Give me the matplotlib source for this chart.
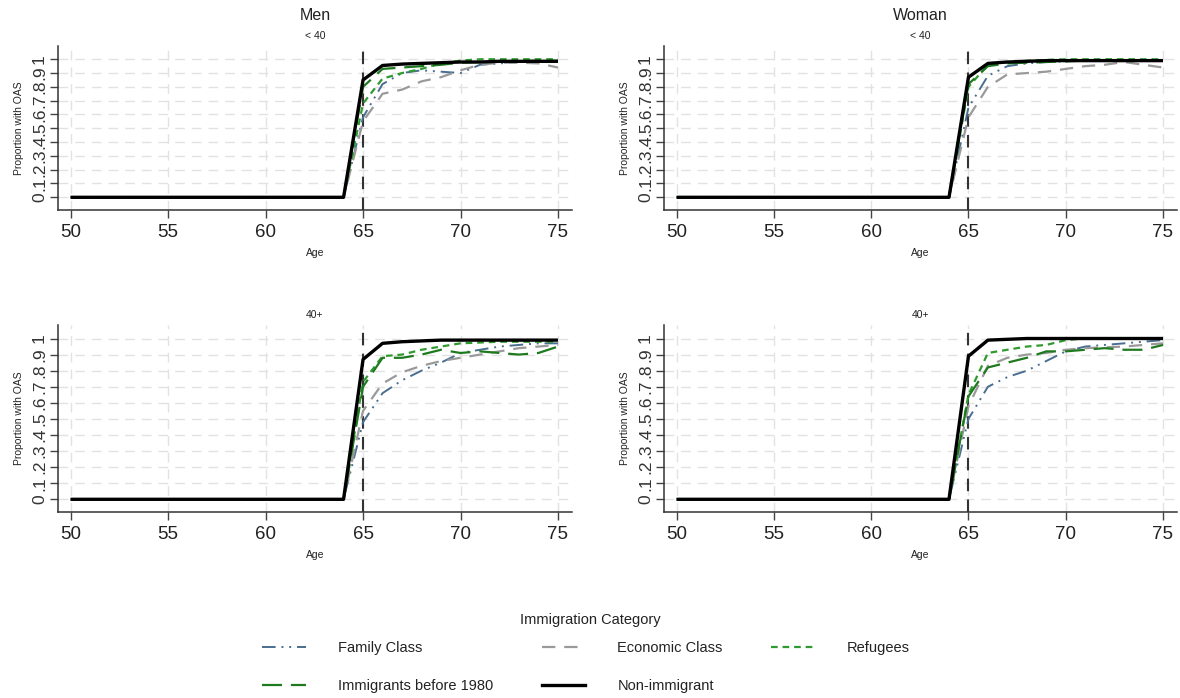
import numpy as np
import matplotlib
matplotlib.use("Agg")
import matplotlib.pyplot as plt
from matplotlib.lines import Line2D

plt.rcParams['font.family'] = ['Liberation Sans', 'DejaVu Sans']

ages = np.arange(50, 76)
zeros = [0.0] * 15  # ages 50-64

# proportion with OAS from age 65 to 75
men_young = {
    "Family Class":           [0.58, 0.82, 0.90, 0.92, 0.91, 0.90, 0.96, 0.97, 0.98, 0.98, 0.985],
    "Economic Class":         [0.55, 0.75, 0.78, 0.84, 0.87, 0.92, 0.96, 0.975, 0.975, 0.97, 0.94],
    "Refugees":               [0.68, 0.86, 0.90, 0.93, 0.97, 0.99, 1.00, 1.00, 1.00, 1.00, 1.00],
    "Immigrants before 1980": [0.80, 0.93, 0.94, 0.95, 0.96, 0.975, 0.98, 0.985, 0.985, 0.99, 0.99],
    "Non-immigrant":          [0.85, 0.955, 0.965, 0.97, 0.975, 0.98, 0.98, 0.985, 0.985, 0.985, 0.985],
}
women_young = {
    "Family Class":           [0.65, 0.88, 0.95, 0.97, 0.98, 0.985, 0.99, 0.99, 0.99, 0.99, 0.99],
    "Economic Class":         [0.58, 0.80, 0.89, 0.90, 0.91, 0.93, 0.95, 0.96, 0.98, 0.96, 0.94],
    "Refugees":               [0.80, 0.96, 0.98, 0.99, 0.995, 1.00, 1.00, 1.00, 1.00, 1.00, 1.00],
    "Immigrants before 1980": [0.82, 0.95, 0.97, 0.975, 0.98, 0.985, 0.99, 0.99, 0.99, 0.99, 0.99],
    "Non-immigrant":          [0.87, 0.97, 0.98, 0.985, 0.99, 0.99, 0.99, 0.99, 0.99, 0.99, 0.99],
}
men_old = {
    "Family Class":           [0.48, 0.66, 0.74, 0.80, 0.85, 0.91, 0.93, 0.95, 0.96, 0.97, 0.97],
    "Economic Class":         [0.55, 0.72, 0.79, 0.83, 0.86, 0.88, 0.90, 0.92, 0.94, 0.95, 0.96],
    "Refugees":               [0.73, 0.89, 0.90, 0.93, 0.95, 0.97, 0.975, 0.98, 0.98, 0.98, 0.98],
    "Immigrants before 1980": [0.70, 0.88, 0.88, 0.90, 0.93, 0.91, 0.92, 0.91, 0.90, 0.91, 0.95],
    "Non-immigrant":          [0.87, 0.97, 0.98, 0.985, 0.99, 0.99, 0.99, 0.99, 0.99, 0.99, 0.99],
}
women_old = {
    "Family Class":           [0.50, 0.70, 0.76, 0.80, 0.86, 0.92, 0.95, 0.96, 0.97, 0.98, 0.99],
    "Economic Class":         [0.58, 0.83, 0.88, 0.90, 0.91, 0.93, 0.94, 0.945, 0.95, 0.96, 0.97],
    "Refugees":               [0.65, 0.91, 0.93, 0.95, 0.96, 0.99, 1.00, 1.00, 1.00, 1.00, 1.00],
    "Immigrants before 1980": [0.64, 0.82, 0.85, 0.88, 0.92, 0.92, 0.93, 0.94, 0.93, 0.93, 0.96],
    "Non-immigrant":          [0.89, 0.99, 0.995, 1.00, 1.00, 1.00, 1.00, 1.00, 1.00, 1.00, 1.00],
}

yticks = np.arange(0, 1.01, 0.1)
ytick_labels = ["0", ".1", ".2", ".3", ".4", ".5", ".6", ".7", ".8", ".9", "1"]
xticks = [50, 55, 60, 65, 70, 75]

styles = {
    "Family Class":           dict(color="#4a6e90", lw=1.4, ls=(0, (7, 3, 1, 3, 1, 3))),
    "Economic Class":         dict(color="#9a9a9a", lw=1.6, ls=(0, (6, 4))),
    "Refugees":               dict(color="#2f9a2f", lw=1.6, ls=(0, (3, 2.2))),
    "Immigrants before 1980": dict(color="#1f7a1f", lw=1.6, ls=(0, (9, 4))),
    "Non-immigrant":          dict(color="black", lw=2.4, ls="-"),
}

W, H = 1180, 698
fig = plt.figure(figsize=(W / 100, H / 100), dpi=100)


def box(left, top, right, bottom):
    return [left / W, 1 - bottom / H, (right - left) / W, (bottom - top) / H]


panels = [
    (men_young, box(58, 46, 572, 210), "Men", "< 40", (-0.092, 1.096)),
    (women_young, box(664, 46, 1177, 210), "Woman", "< 40", (-0.092, 1.096)),
    (men_old, box(58, 325, 572, 512), None, "40+", (-0.079, 1.084)),
    (women_old, box(664, 325, 1177, 512), None, "40+", (-0.079, 1.084)),
]

for data, rect, title, sub, ylim in panels:
    ax = fig.add_axes(rect)
    for name, vals in data.items():
        ax.plot(ages, zeros + vals, solid_capstyle="butt", dash_capstyle="butt",
                zorder=4 if name == "Non-immigrant" else 3, **styles[name])
    ax.axvline(65, color="#333333", lw=1.5, ls=(0, (6, 4)), zorder=2)
    ax.set_xlim(49.35, 75.72)
    ax.set_ylim(*ylim)
    ax.set_xticks(xticks)
    ax.set_yticks(yticks)
    ax.set_yticklabels(ytick_labels, rotation=90, va="center")
    ax.tick_params(axis="x", labelsize=13.5, length=6, width=1, color="#444444",
                   labelcolor="#222222", pad=4)
    ax.tick_params(axis="y", labelsize=12.5, length=6, width=1, color="#444444",
                   labelcolor="#333333", pad=2)
    ax.grid(True, color="#e2e2e2", lw=1, ls=(0, (7, 5)), zorder=0)
    for s in ["top", "right"]:
        ax.spines[s].set_visible(False)
    for s in ["left", "bottom"]:
        ax.spines[s].set_color("#333333")
        ax.spines[s].set_linewidth(1.1)
    ax.set_xlabel("Age", fontsize=7.5, color="#222222", labelpad=5)
    ax.set_ylabel("Proportion with OAS", fontsize=7.5, color="#222222", labelpad=6)
    ax.set_title(sub, fontsize=7.5, color="#222222", pad=5)
    if title:
        cx = rect[0] + rect[2] / 2
        fig.text(cx, 1 - 16 / H, title, ha="center", va="center", fontsize=11.5, color="#222222")

fig.text(590 / W, 1 - 620 / H, "Immigration Category", ha="center", va="center",
         fontsize=10.5, color="#222222")

order = ["Family Class", "Immigrants before 1980", "Economic Class", "Non-immigrant", "Refugees"]
handles = [Line2D([], [], **styles[n]) for n in order]
leg = fig.legend(handles, order, loc="center", bbox_to_anchor=(586 / W, 1 - 667 / H),
                 ncol=3, frameon=False, fontsize=10.5,
                 handlelength=3.0, handletextpad=2.2,
                 columnspacing=3.3, labelspacing=1.65)
for t in leg.get_texts():
    t.set_color("#222222")

fig.savefig("out.png", dpi=100, facecolor="white")
